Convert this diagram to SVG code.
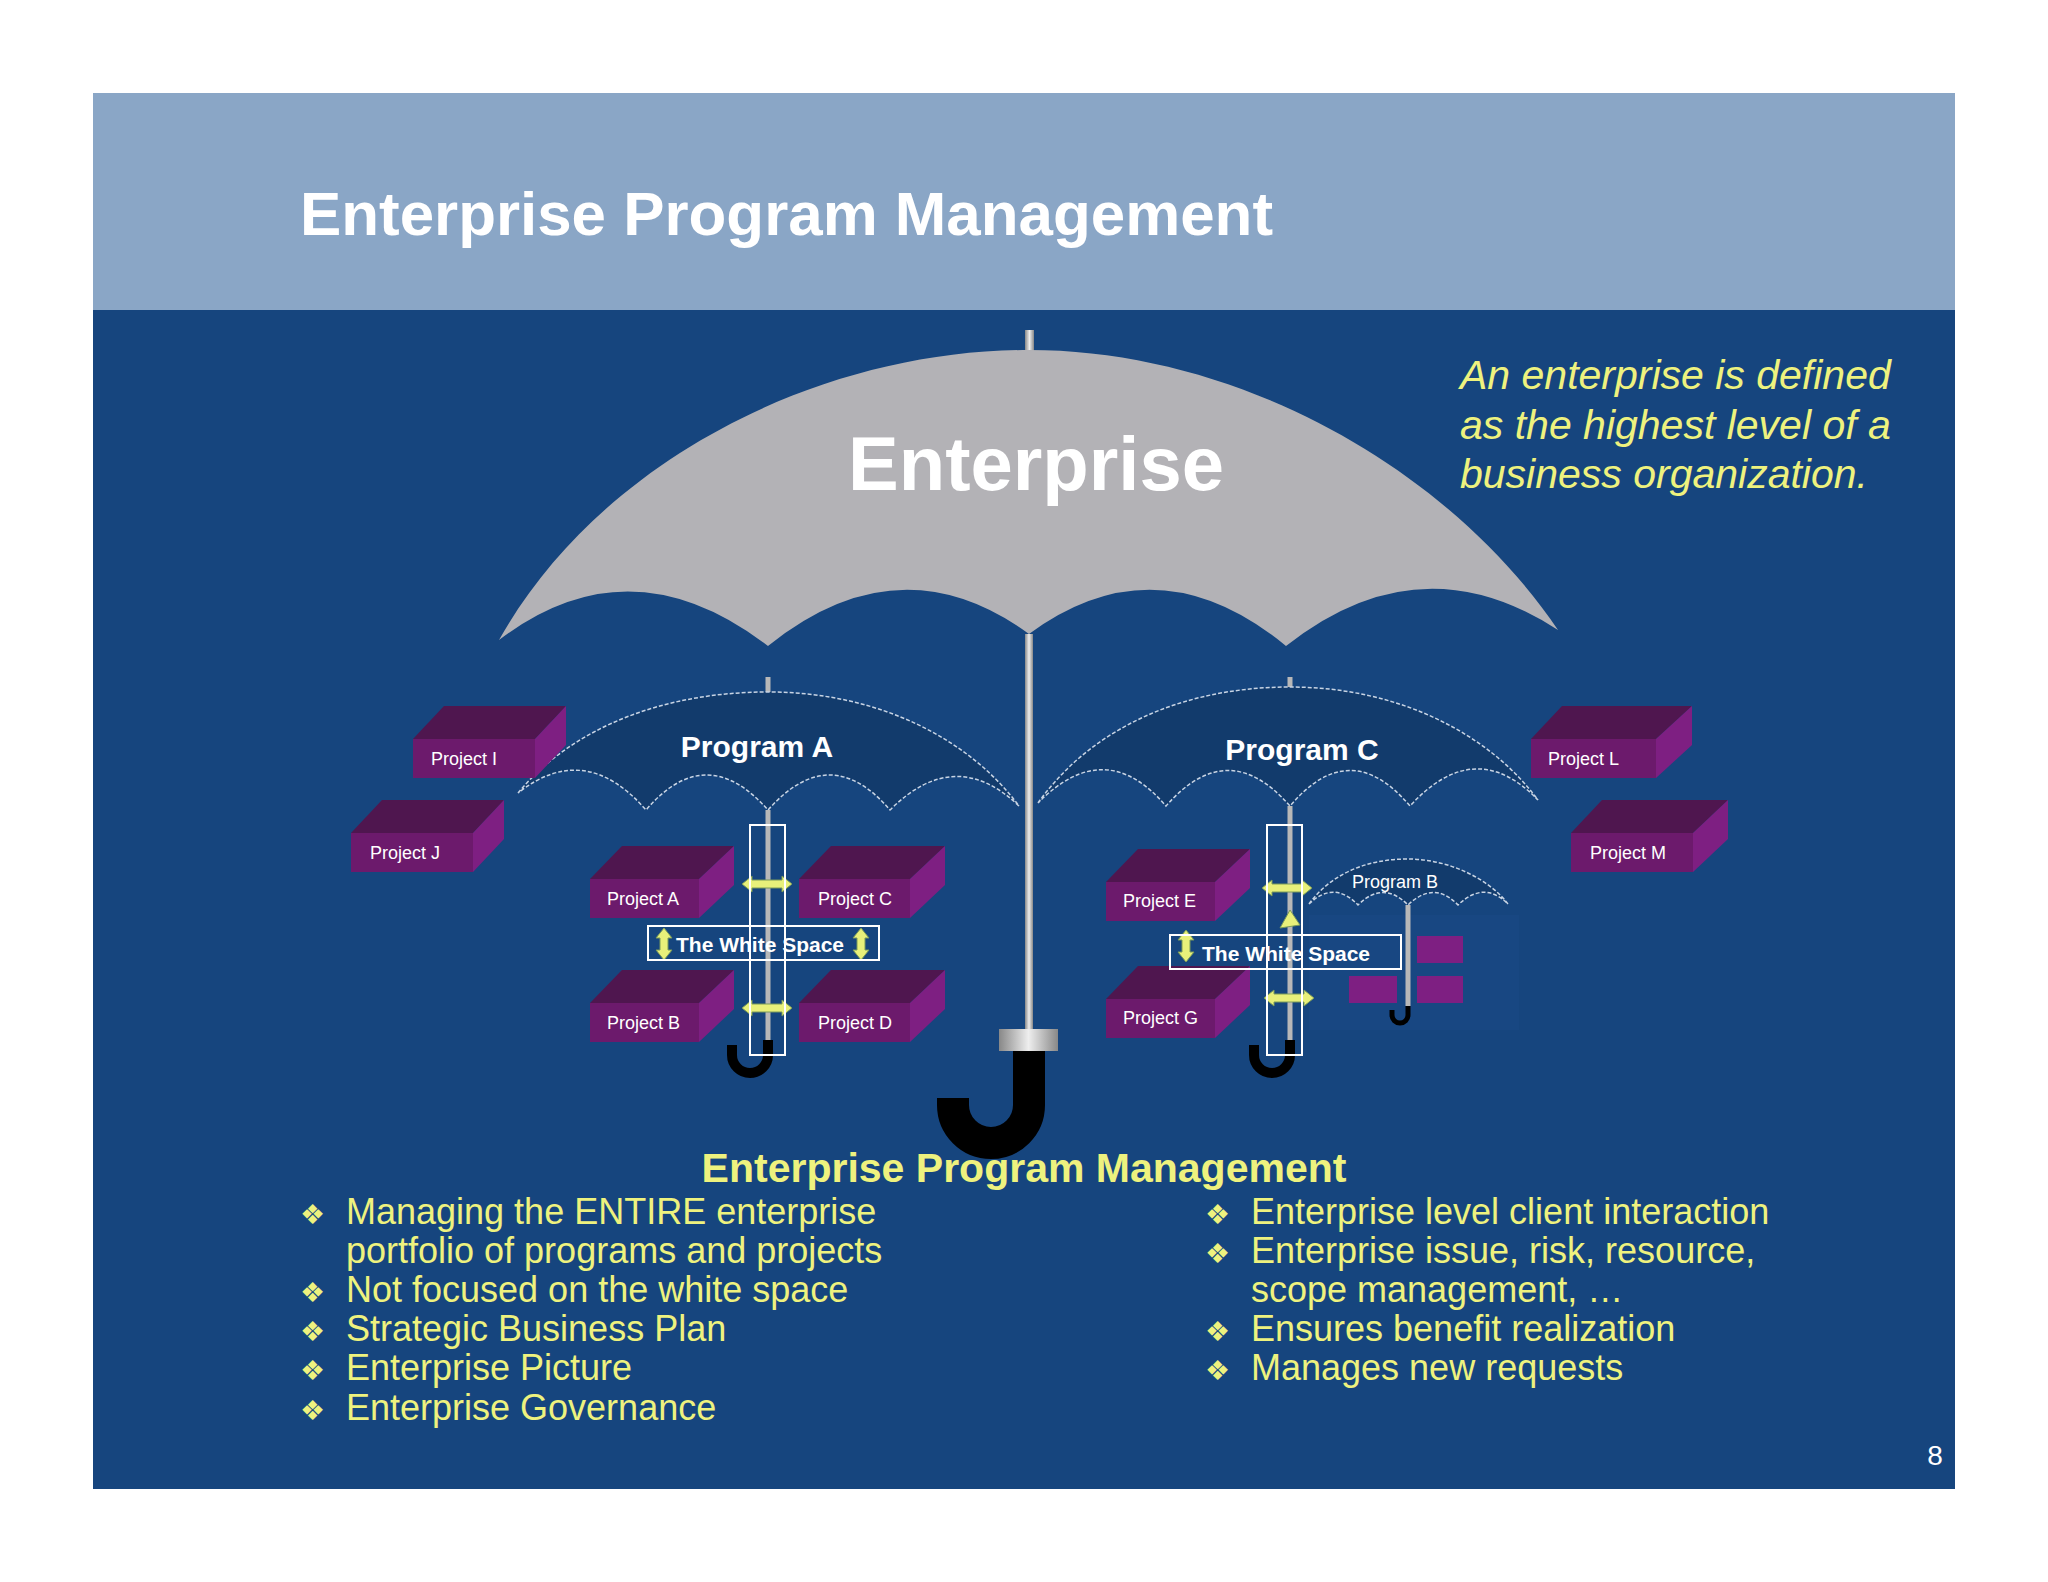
<svg xmlns="http://www.w3.org/2000/svg" width="2048" height="1582" viewBox="0 0 2048 1582">
<style>
.pt{font-family:"Liberation Sans",Arial,sans-serif;fill:#fff;font-size:18px}
.top{fill:#4f164f}.front{fill:#6c1a6c}.side{fill:#7e1f82}
.can{fill:#123b6c;stroke:#c8d4e4;stroke-width:1.5;stroke-dasharray:4 2}
.pole{stroke:#b8b8b8;stroke-width:5;fill:none}
.hook{stroke:#000;fill:none;stroke-linecap:butt}
.ws{fill:none;stroke:#fff;stroke-width:2}
.wst{font-family:"Liberation Sans",Arial,sans-serif;font-weight:bold;fill:#fff;font-size:21px;text-anchor:middle}
.bl{font-family:"Liberation Sans",Arial,sans-serif;fill:#eef27e;font-size:36px}
.arr{fill:#e8f07a;stroke:#7a9a5a;stroke-width:1}
</style>
<defs>
<linearGradient id="pg" x1="0" x2="1"><stop offset="0" stop-color="#888"/><stop offset="0.5" stop-color="#eee"/><stop offset="1" stop-color="#888"/></linearGradient>
</defs>
<rect width="2048" height="1582" fill="#fff"/>
<rect x="93" y="93" width="1862" height="217" fill="#8aa6c6"/>
<rect x="93" y="310" width="1862" height="1179" fill="#16457e"/>
<text x="300" y="235" font-family="Liberation Sans,Arial,sans-serif" font-weight="bold" font-size="62" fill="#fff" textLength="973" lengthAdjust="spacingAndGlyphs">Enterprise Program Management</text>

<g id="enterprise-umbrella">
<rect x="1025" y="330" width="9" height="25" fill="url(#pg)"/>
<path d="M499,640 C600,460 820,350 1029,350 C1240,350 1450,470 1558,630 Q1420,540 1286,646 Q1157,540 1029,634 Q900,540 768,646 Q630,540 499,640 Z" fill="#b3b2b6"/>
<rect x="1025" y="634" width="8" height="395" fill="url(#pg)"/>
<rect x="999" y="1029" width="59" height="22" fill="url(#pg)"/>
<path d="M1029,1051 V1105 A38,38 0 0 1 953,1105 V1098" class="hook" stroke-width="32"/>
<text x="1036" y="490" font-family="Liberation Sans,Arial,sans-serif" font-weight="bold" font-size="76" fill="#fff" text-anchor="middle">Enterprise</text>
</g>

<g id="definition" font-family="Liberation Sans,Arial,sans-serif" font-style="italic" font-size="41" fill="#eef27e">
<text x="1460" y="389">An enterprise is defined</text>
<text x="1460" y="439">as the highest level of a</text>
<text x="1460" y="488">business organization.</text>
</g>

<g id="program-a">
<line x1="768" y1="677" x2="768" y2="693" class="pole"/>
<path d="M518,793 C570,730 660,692 768,692 C880,692 970,740 1019,806 Q955,745 890,810 Q830,740 768,810 Q706,740 646,810 Q585,740 518,793 Z" class="can"/>
<line x1="768" y1="810" x2="768" y2="1045" class="pole"/>
<path d="M768,1040 V1055 A18,18 0 0 1 732,1055 V1045" class="hook" stroke-width="10"/>
<text x="757" y="757" font-family="Liberation Sans,Arial,sans-serif" font-weight="bold" font-size="30" fill="#fff" text-anchor="middle">Program A</text>
</g>
<g id="program-c">
<line x1="1290" y1="677" x2="1290" y2="688" class="pole"/>
<path d="M1038,803 C1090,730 1180,687 1290,687 C1400,687 1490,735 1538,800 Q1475,735 1410,806 Q1350,735 1290,806 Q1228,735 1166,806 Q1105,735 1038,803 Z" class="can"/>
<line x1="1290" y1="806" x2="1290" y2="1045" class="pole"/>
<path d="M1290,1040 V1055 A18,18 0 0 1 1254,1055 V1045" class="hook" stroke-width="10"/>
<text x="1302" y="760" font-family="Liberation Sans,Arial,sans-serif" font-weight="bold" font-size="30" fill="#fff" text-anchor="middle">Program C</text>
</g>
<g id="program-b">
<rect x="1309" y="915" width="210" height="115" fill="#1a4a85" opacity="0.6"/>
<path d="M1309,904 C1330,875 1365,859 1408,859 C1450,859 1490,880 1508,904 Q1484,880 1458,905 Q1434,880 1408,905 Q1383,880 1358,905 Q1334,880 1309,904 Z" class="can"/>
<line x1="1408" y1="905" x2="1408" y2="1006" class="pole" stroke-width="3"/>
<path d="M1408,1006 V1015 A8,8 0 0 1 1392,1015 V1010" class="hook" stroke-width="5"/>
<text x="1395" y="888" class="pt" text-anchor="middle">Program B</text>
<rect x="1417" y="936" width="46" height="27" fill="#7e1f82"/>
<rect x="1417" y="976" width="46" height="27" fill="#7e1f82"/>
<rect x="1349" y="976" width="48" height="27" fill="#7e1f82"/>
</g>

<g id="project-i"><path class="top" d="M413,739 L444,706 L566,706 L535,739 Z"/><path class="side" d="M535,739 L566,706 L566,745 L535,778 Z"/><rect class="front" x="413" y="739" width="122" height="39"/><text class="pt" x="431" y="765">Project I</text></g>
<g id="project-j"><path class="top" d="M351,833 L382,800 L504,800 L473,833 Z"/><path class="side" d="M473,833 L504,800 L504,839 L473,872 Z"/><rect class="front" x="351" y="833" width="122" height="39"/><text class="pt" x="370" y="859">Project J</text></g>
<g id="project-a"><path class="top" d="M590,879 L622,846 L734,846 L699,879 Z"/><path class="side" d="M699,879 L734,846 L734,885 L699,918 Z"/><rect class="front" x="590" y="879" width="109" height="39"/><text class="pt" x="607" y="905">Project A</text></g>
<g id="project-c"><path class="top" d="M799,879 L831,846 L945,846 L910,879 Z"/><path class="side" d="M910,879 L945,846 L945,885 L910,918 Z"/><rect class="front" x="799" y="879" width="111" height="39"/><text class="pt" x="818" y="905">Project C</text></g>
<g id="project-b"><path class="top" d="M590,1003 L622,970 L734,970 L699,1003 Z"/><path class="side" d="M699,1003 L734,970 L734,1009 L699,1042 Z"/><rect class="front" x="590" y="1003" width="109" height="39"/><text class="pt" x="607" y="1029">Project B</text></g>
<g id="project-d"><path class="top" d="M799,1003 L831,970 L945,970 L910,1003 Z"/><path class="side" d="M910,1003 L945,970 L945,1009 L910,1042 Z"/><rect class="front" x="799" y="1003" width="111" height="39"/><text class="pt" x="818" y="1029">Project D</text></g>
<g id="project-e"><path class="top" d="M1106,882 L1138,849 L1250,849 L1215,882 Z"/><path class="side" d="M1215,882 L1250,849 L1250,888 L1215,921 Z"/><rect class="front" x="1106" y="882" width="109" height="39"/><text class="pt" x="1123" y="907">Project E</text></g>
<g id="project-g"><path class="top" d="M1106,999 L1138,966 L1250,966 L1215,999 Z"/><path class="side" d="M1215,999 L1250,966 L1250,1005 L1215,1038 Z"/><rect class="front" x="1106" y="999" width="109" height="39"/><text class="pt" x="1123" y="1024">Project G</text></g>
<g id="project-l"><path class="top" d="M1531,739 L1562,706 L1692,706 L1656,739 Z"/><path class="side" d="M1656,739 L1692,706 L1692,745 L1656,778 Z"/><rect class="front" x="1531" y="739" width="125" height="39"/><text class="pt" x="1548" y="765">Project L</text></g>
<g id="project-m"><path class="top" d="M1571,833 L1602,800 L1728,800 L1693,833 Z"/><path class="side" d="M1693,833 L1728,800 L1728,839 L1693,872 Z"/><rect class="front" x="1571" y="833" width="122" height="39"/><text class="pt" x="1590" y="859">Project M</text></g>

<g id="connectors">
<path class="arr" d="M742,884 L752,876 L752,880 L782,880 L782,876 L792,884 L782,892 L782,888 L752,888 L752,892 Z"/>
<path class="arr" d="M742,1008 L752,1000 L752,1004 L782,1004 L782,1000 L792,1008 L782,1016 L782,1012 L752,1012 L752,1016 Z"/>
<path class="arr" d="M664,928 L672,938 L668,938 L668,950 L672,950 L664,960 L656,950 L660,950 L660,938 L656,938 Z"/>
<path class="arr" d="M861,928 L869,938 L865,938 L865,950 L869,950 L861,960 L853,950 L857,950 L857,938 L853,938 Z"/>
<path class="arr" d="M1262,888 L1272,880 L1272,884 L1302,884 L1302,880 L1312,888 L1302,896 L1302,892 L1272,892 L1272,896 Z"/>
<path class="arr" d="M1264,998 L1274,990 L1274,994 L1304,994 L1304,990 L1314,998 L1304,1006 L1304,1002 L1274,1002 L1274,1006 Z"/>
<path class="arr" d="M1186,930 L1194,940 L1190,940 L1190,952 L1194,952 L1186,962 L1178,952 L1182,952 L1182,940 L1178,940 Z"/>
<path class="arr" d="M1290,910 L1300,925 L1280,928 Z"/>
</g>

<g id="white-space-a">
<rect class="ws" x="750" y="825" width="35" height="230"/>
<rect class="ws" x="648" y="926" width="231" height="34"/>
<text class="wst" x="760" y="952">The White Space</text>
</g>
<g id="white-space-c">
<rect class="ws" x="1267" y="825" width="35" height="230"/>
<rect class="ws" x="1170" y="935" width="231" height="34"/>
<text class="wst" x="1286" y="961">The White Space</text>
</g>

<g id="bullets">
<text x="1024" y="1182" font-family="Liberation Sans,Arial,sans-serif" font-weight="bold" font-size="41" fill="#eef27e" text-anchor="middle">Enterprise Program Management</text>
<g class="bl">
<text x="300" y="1224" font-size="28">❖</text><text x="346" y="1224">Managing the ENTIRE enterprise</text>
<text x="346" y="1263">portfolio of programs and projects</text>
<text x="300" y="1302" font-size="28">❖</text><text x="346" y="1302">Not focused on the white space</text>
<text x="300" y="1341" font-size="28">❖</text><text x="346" y="1341">Strategic Business Plan</text>
<text x="300" y="1380" font-size="28">❖</text><text x="346" y="1380">Enterprise Picture</text>
<text x="300" y="1420" font-size="28">❖</text><text x="346" y="1420">Enterprise Governance</text>
<text x="1205" y="1224" font-size="28">❖</text><text x="1251" y="1224">Enterprise level client interaction</text>
<text x="1205" y="1263" font-size="28">❖</text><text x="1251" y="1263">Enterprise issue, risk, resource,</text>
<text x="1251" y="1302">scope management, …</text>
<text x="1205" y="1341" font-size="28">❖</text><text x="1251" y="1341">Ensures benefit realization</text>
<text x="1205" y="1380" font-size="28">❖</text><text x="1251" y="1380">Manages new requests</text>
</g>
<text x="1935" y="1465" font-family="Liberation Sans,Arial,sans-serif" font-size="28" fill="#fff" text-anchor="middle">8</text>
</g>
</svg>
